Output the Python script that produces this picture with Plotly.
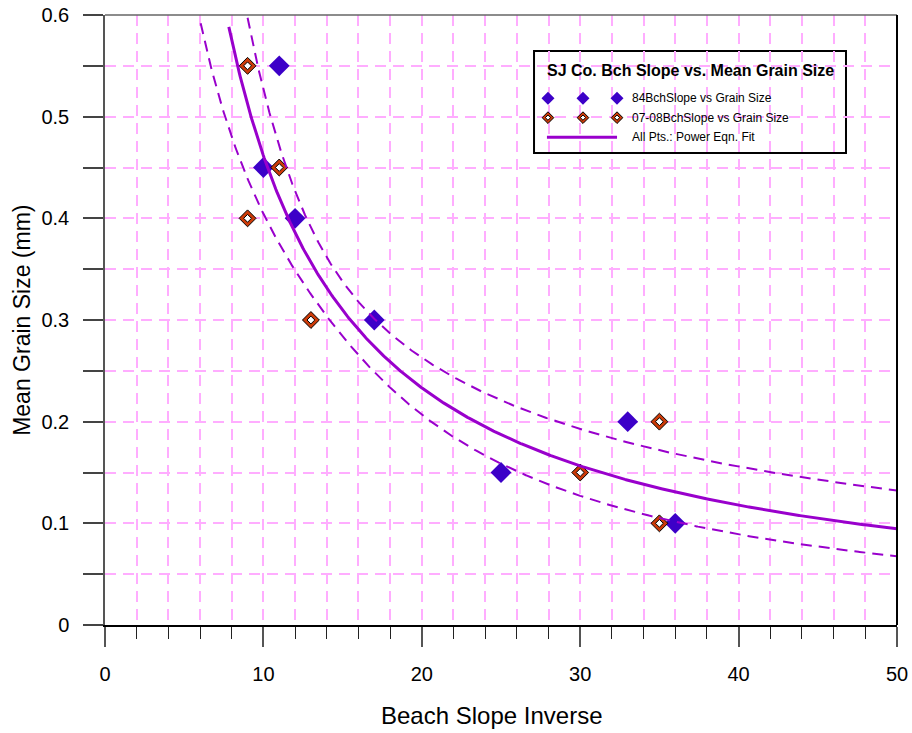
import numpy as np
import plotly.graph_objects as go

# ---------------- data ----------------
slope84_x = [10, 11, 12, 17, 25, 33, 36]
size84_y = [0.45, 0.55, 0.40, 0.30, 0.15, 0.20, 0.10]

slope0708_x = [9, 9, 11, 13, 30, 35, 35]
size0708_y = [0.55, 0.40, 0.45, 0.30, 0.15, 0.20, 0.10]

x_major_ticks = [0, 10, 20, 30, 40, 50]
y_grid_ticks = [round(0.05 * i, 2) for i in range(13)]
y_major_ticks = [0, 0.1, 0.2, 0.3, 0.4, 0.5, 0.6]
y_tick_text = ["0", "0.1", "0.2", "0.3", "0.4", "0.5", "0.6"]

legend_title = "SJ Co. Bch Slope vs. Mean Grain Size"
legend_labels = ["84BchSlope vs Grain Size",
                 "07-08BchSlope vs Grain Size",
                 "All Pts.: Power Eqn. Fit"]
x_title = "Beach Slope Inverse"
y_title = "Mean Grain Size (mm)"

X_RANGE = [0, 50]
Y_RANGE = [0, 0.6]

# ---------------- power-equation fit of all points (log-log regression) ----------------
all_x = np.array(slope84_x + slope0708_x, dtype=float)
all_y = np.array(size84_y + size0708_y, dtype=float)
u = np.log(all_x)
v = np.log(all_y)
b, ln_a = np.polyfit(u, v, 1)

# band half-width (in log space) as drawn in the reference: narrowest near x~14.6
BAND_CENTER = np.log(14.6)
BAND_A = 0.0075
BAND_B = 0.0693

xf = np.linspace(4.0, 50.0, 700)
uf = np.log(xf)
vf = ln_a + b * uf
hw = np.sqrt(BAND_A + BAND_B * (uf - BAND_CENTER) ** 2)
fit = np.exp(vf)
upper = np.exp(vf + hw)
lower = np.exp(vf - hw)
CAP = 0.592
fit = np.where(fit > CAP, np.nan, fit)
upper = np.where(upper > 0.6, np.nan, upper)
lower = np.where(lower > CAP, np.nan, lower)

# ---------------- styles ----------------
BLUE = "#3c00c8"
ORANGE = "#cc3a08"
PURPLE = "#9900cc"
GRID = "#ffadff"
FONT = "Liberation Sans, Arial, sans-serif"

fig = go.Figure()

# data markers
fig.add_trace(go.Scatter(x=slope84_x, y=size84_y, mode="markers",
                         marker=dict(symbol="diamond", size=16, color=BLUE, line=dict(width=0)),
                         showlegend=False, hoverinfo="skip"))
fig.add_trace(go.Scatter(x=slope0708_x, y=size0708_y, mode="markers",
                         marker=dict(symbol="diamond", size=13, color=ORANGE,
                                     line=dict(width=1, color="black")),
                         showlegend=False, hoverinfo="skip"))
fig.add_trace(go.Scatter(x=slope0708_x, y=size0708_y, mode="markers",
                         marker=dict(symbol="diamond", size=6, color="white",
                                     line=dict(width=1, color="black")),
                         showlegend=False, hoverinfo="skip"))

# fit curve and band
fig.add_trace(go.Scatter(x=xf, y=upper, mode="lines",
                         line=dict(color=PURPLE, width=2, dash="11px,7px"),
                         showlegend=False, hoverinfo="skip"))
fig.add_trace(go.Scatter(x=xf, y=lower, mode="lines",
                         line=dict(color=PURPLE, width=2, dash="11px,7px"),
                         showlegend=False, hoverinfo="skip"))
fig.add_trace(go.Scatter(x=xf, y=fit, mode="lines",
                         line=dict(color=PURPLE, width=3),
                         showlegend=False, hoverinfo="skip"))

# ---------------- custom legend (box position given as plot fractions) ----------------
box_x0, box_x1, box_y0, box_y1 = 0.5417, 0.9356, 0.7738, 0.941
glyph_fx = [0.5593, 0.6035, 0.6465]
row_fy = [0.8634, 0.8317, 0.7995]
text_fx = 0.6629


def to_x(f):
    return X_RANGE[0] + f * (X_RANGE[1] - X_RANGE[0])


def to_y(f):
    return Y_RANGE[0] + f * (Y_RANGE[1] - Y_RANGE[0])


gx = [to_x(f) for f in glyph_fx]
fig.add_trace(go.Scatter(x=gx, y=[to_y(row_fy[0])] * 3, mode="markers",
                         marker=dict(symbol="diamond", size=10, color=BLUE, line=dict(width=0)),
                         showlegend=False, hoverinfo="skip", cliponaxis=False))
fig.add_trace(go.Scatter(x=gx, y=[to_y(row_fy[1])] * 3, mode="markers",
                         marker=dict(symbol="diamond", size=9, color=ORANGE,
                                     line=dict(width=1, color="black")),
                         showlegend=False, hoverinfo="skip", cliponaxis=False))
fig.add_trace(go.Scatter(x=gx, y=[to_y(row_fy[1])] * 3, mode="markers",
                         marker=dict(symbol="diamond", size=4, color="white",
                                     line=dict(width=1, color="black")),
                         showlegend=False, hoverinfo="skip", cliponaxis=False))
fig.add_trace(go.Scatter(x=[to_x(glyph_fx[0] - 0.0013), gx[2]], y=[to_y(row_fy[2])] * 2,
                         mode="lines", line=dict(color=PURPLE, width=3),
                         showlegend=False, hoverinfo="skip"))

shapes = [
    dict(type="rect", xref="paper", yref="paper", x0=box_x0, x1=box_x1, y0=box_y0, y1=box_y1,
         line=dict(color="black", width=2), fillcolor="white", layer="between"),
    # top border
    dict(type="line", xref="paper", yref="paper", x0=0, x1=1, y0=1, y1=1,
         line=dict(color="#666666", width=1.5), layer="above"),
    # right border
    dict(type="line", xref="paper", yref="paper", x0=1, x1=1, y0=0, y1=1,
         line=dict(color="black", width=2), layer="above"),
]

annotations = [
    dict(text="<b>" + legend_title + "</b>", xref="paper", yref="paper",
         x=(box_x0 + box_x1) / 2, y=0.9098, xanchor="center", yanchor="middle",
         showarrow=False, font=dict(family=FONT, size=16, color="black")),
]
for lbl, yy in zip(legend_labels, row_fy):
    annotations.append(dict(text=lbl, xref="paper", yref="paper", x=text_fx, y=yy,
                            xanchor="left", yanchor="middle", showarrow=False,
                            font=dict(family=FONT, size=12, color="black")))
annotations.append(dict(text=x_title, xref="paper", yref="paper", x=0.4886, y=-0.148,
                        xanchor="center", yanchor="middle", showarrow=False,
                        font=dict(family=FONT, size=24, color="black")))
annotations.append(dict(text=y_title, xref="paper", yref="paper", x=-0.105, y=0.50,
                        xanchor="center", yanchor="middle", showarrow=False, textangle=-90,
                        font=dict(family=FONT, size=23, color="black")))

y_text_map = dict(zip(y_major_ticks, y_tick_text))
y_tick_text_all = [y_text_map.get(t, "") for t in y_grid_ticks]

fig.update_layout(
    width=912, height=733,
    margin=dict(l=105, r=15, t=15, b=108, autoexpand=False),
    paper_bgcolor="white", plot_bgcolor="white",
    font=dict(family=FONT, size=20, color="black"),
    shapes=shapes, annotations=annotations,
    showlegend=False,
    xaxis=dict(range=X_RANGE, tickmode="array", tickvals=x_major_ticks,
               ticks="outside", ticklen=20, tickcolor="#555555", tickwidth=1.5,
               showline=True, linecolor="black", linewidth=2, zeroline=False,
               automargin=False, ticklabelstandoff=10,
               tickfont=dict(family=FONT, size=20, color="black"),
               showgrid=True, gridcolor=GRID, gridwidth=1.5, griddash="11px,7px",
               minor=dict(dtick=2, tick0=0, ticks="outside", ticklen=12, tickcolor="#222222",
                          tickwidth=1, showgrid=True, gridcolor=GRID, gridwidth=1.5,
                          griddash="11px,7px")),
    yaxis=dict(range=Y_RANGE, tickmode="array", tickvals=y_grid_ticks, ticktext=y_tick_text_all,
               ticks="outside", ticklen=20, tickcolor="#444444", tickwidth=1.5,
               showline=True, linecolor="#555555", linewidth=1.5, zeroline=False,
               automargin=False, ticklabelstandoff=10,
               tickfont=dict(family=FONT, size=20, color="black"),
               showgrid=True, gridcolor=GRID, gridwidth=1.5, griddash="11px,7px"),
)

fig.write_html("out.html", config={"displayModeBar": False},
               post_script="document.body.style.margin='0';")
